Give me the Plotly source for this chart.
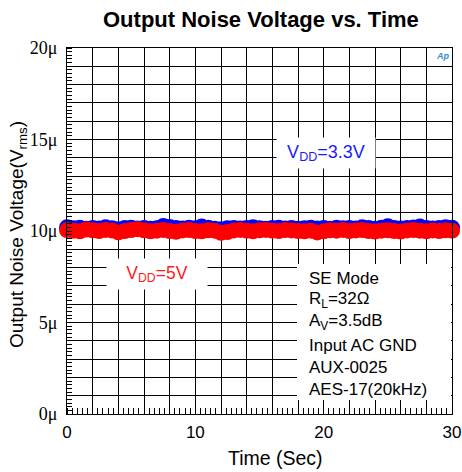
import plotly.graph_objects as go

# ---------------- data ----------------
step_sec = 0.5
blue_vdd33 = [10.20, 10.15, 10.18, 10.12, 10.16, 10.14, 10.20, 10.15, 10.10, 10.16,
              10.18, 10.14, 10.17, 10.12, 10.15, 10.28, 10.22, 10.16, 10.14, 10.18,
              10.15, 10.25, 10.18, 10.12, 10.10, 10.15, 10.17, 10.13, 10.16, 10.20,
              10.15, 10.12, 10.16, 10.18, 10.14, 10.17, 10.12, 10.15, 10.18, 10.14,
              10.16, 10.12, 10.18, 10.15, 10.17, 10.13, 10.20, 10.16, 10.12, 10.18,
              10.26, 10.17, 10.14, 10.16, 10.19, 10.24, 10.17, 10.13, 10.16, 10.20,
              10.18]
red_vdd5 = [10.05, 10.02, 9.98, 10.08, 10.04, 10.00, 10.06, 10.03, 9.92, 10.00,
            10.05, 10.10, 10.04, 9.98, 10.02, 10.06, 10.00, 9.96, 10.03, 10.05,
            10.00, 9.98, 10.04, 10.02, 9.90, 9.94, 10.03, 10.06, 10.02, 9.98,
            10.04, 10.06, 10.02, 10.00, 10.05, 10.03, 10.00, 9.98, 10.02, 9.92,
            9.98, 10.04, 10.02, 10.06, 10.00, 10.03, 10.05, 10.00, 9.97, 10.02,
            10.04, 10.00, 9.97, 10.03, 10.05, 10.02, 9.98, 10.03, 10.00, 10.04,
            10.02]
time_blue = [i * step_sec for i in range(len(blue_vdd33))]
time_red = [i * step_sec for i in range(len(red_vdd5))]

x_tickvals = list(range(0, 31, 2))
x_ticktext = [str(v) if v % 10 == 0 else "" for v in x_tickvals]
y_tickvals = list(range(0, 21, 1))
y_ticktext = [f"{v}\u03bc" if v % 5 == 0 else "" for v in y_tickvals]

info_lines = ["SE Mode", "R<sub>L</sub>=32\u03a9", "A<sub>V</sub>=3.5dB",
              "Input AC GND", "AUX-0025", "AES-17(20kHz)"]

# ---------------- figure ----------------
W, H = 462, 472
ML, MR, MT, MB = 67, 10, 48, 58
PW, PH = W - ML - MR, H - MT - MB


def px_x(px):
    return (px - ML) / PW


def px_y(py):
    return (H - MB - py) / PH


fig = go.Figure()
fig.add_trace(go.Scatter(x=time_blue, y=blue_vdd33, mode="markers",
                         marker=dict(color="#0000ff", size=16, line=dict(width=0)),
                         cliponaxis=False, showlegend=False))
fig.add_trace(go.Scatter(x=time_red, y=red_vdd5, mode="markers",
                         marker=dict(color="#ff0000", size=16, line=dict(width=0)),
                         cliponaxis=False, showlegend=False))

sans = "Arial, Liberation Sans, sans-serif"
serif = "Times New Roman, Liberation Serif, serif"

annotations = []
# title
annotations.append(dict(text="<b>Output Noise Voltage vs. Time</b>", xref="paper", yref="paper",
                        x=px_x(261), y=px_y(19), xanchor="center", yanchor="middle",
                        showarrow=False, font=dict(family=sans, size=22, color="black")))
# axis titles
annotations.append(dict(text="Time (Sec)", xref="paper", yref="paper",
                        x=px_x(275), y=px_y(458), xanchor="center", yanchor="middle",
                        showarrow=False, font=dict(family=sans, size=19.5, color="black")))
annotations.append(dict(text="Output Noise Voltage(V<sub>rms</sub>)", xref="paper", yref="paper",
                        x=px_x(18), y=px_y(235), xanchor="center", yanchor="middle",
                        textangle=-90, showarrow=False,
                        font=dict(family=sans, size=19, color="black")))
# series labels
annotations.append(dict(text="V<sub>DD</sub>=3.3V", xref="paper", yref="paper",
                        x=px_x(326), y=px_y(153), xanchor="center", yanchor="middle",
                        showarrow=False, bgcolor="white", width=96, height=28,
                        font=dict(family=sans, size=18, color="#1a1aff")))
annotations.append(dict(text="V<sub>DD</sub>=5V", xref="paper", yref="paper",
                        x=px_x(157), y=px_y(274), xanchor="center", yanchor="middle",
                        showarrow=False, bgcolor="white", width=98, height=28,
                        font=dict(family=sans, size=17.5, color="#ff1a1a")))
# info lines
info_y = [278, 300, 322, 345, 367, 389]
for txt, yy in zip(info_lines, info_y):
    annotations.append(dict(text=txt, xref="paper", yref="paper",
                            x=px_x(307), y=px_y(yy), xanchor="left", yanchor="middle",
                            showarrow=False, font=dict(family=sans, size=17, color="black")))
# Ap logo
annotations.append(dict(text="<i><b>Ap</b></i>", xref="paper", yref="paper",
                        x=px_x(443), y=px_y(56), xanchor="center", yanchor="middle",
                        showarrow=False, font=dict(family=sans, size=9, color="#2a8fd0")))

shapes = [dict(type="rect", xref="paper", yref="paper",
               x0=px_x(297), x1=px_x(451), y0=px_y(400), y1=px_y(264),
               fillcolor="white", line=dict(width=0), layer="above")]

fig.update_layout(
    width=W, height=H, autosize=False,
    margin=dict(l=ML, r=MR, t=MT, b=MB, pad=0),
    paper_bgcolor="white", plot_bgcolor="white",
    annotations=annotations, shapes=shapes,
    xaxis=dict(range=[0, 30], tickmode="array", tickvals=x_tickvals, ticktext=x_ticktext,
               automargin=False, ticklabelstandoff=3,
               showgrid=True, gridcolor="black", gridwidth=1, ticks="",
               showline=True, linecolor="black", linewidth=1, mirror=True,
               zeroline=False, tickfont=dict(family=sans, size=17, color="black"),
               minor=dict(tickmode="linear", tick0=0, dtick=0.4, ticks="inside",
                          ticklen=6, tickcolor="black", showgrid=False)),
    yaxis=dict(range=[0, 20], tickmode="array", tickvals=y_tickvals, ticktext=y_ticktext,
               automargin=False, ticklabelstandoff=5,
               showgrid=True, gridcolor="black", gridwidth=1, ticks="",
               showline=True, linecolor="black", linewidth=1, mirror=True,
               zeroline=False, tickfont=dict(family=serif, size=18, color="black"),
               minor=dict(tickmode="linear", tick0=0, dtick=0.2, ticks="inside",
                          ticklen=5, tickcolor="black", showgrid=False)),
)

fig.write_html("out.html")
